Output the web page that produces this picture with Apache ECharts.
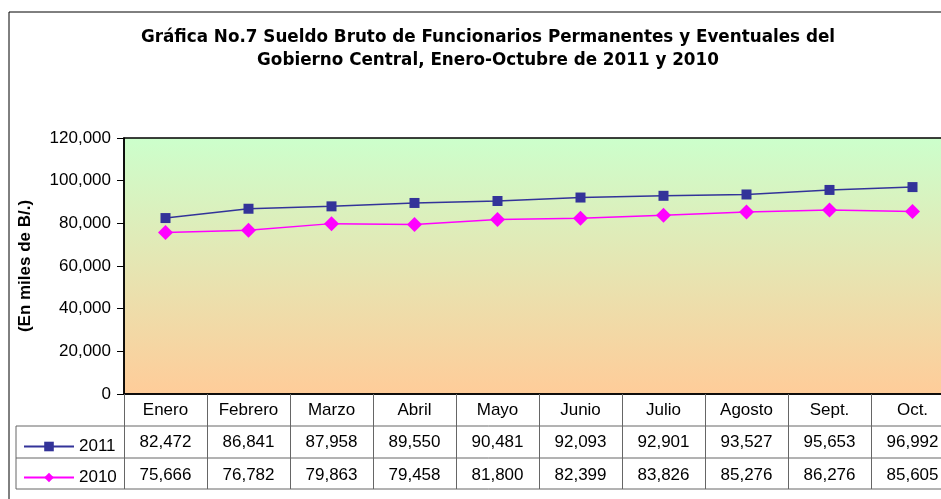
<!DOCTYPE html>
<html>
<head>
<meta charset="utf-8">
<title>Gráfica No.7</title>
<script src="https://cdn.jsdelivr.net/npm/echarts@6/dist/echarts.min.js"></script>
<style>
  html, body { margin: 0; padding: 0; background: #fff; overflow: hidden; }
  #chart { width: 960px; height: 499px; }
</style>
</head>
<body>
<div id="chart"></div>
<script>
// datos
var meses = ["Enero", "Febrero", "Marzo", "Abril", "Mayo", "Junio", "Julio", "Agosto", "Sept.", "Oct."];
var serie2011 = [82472, 86841, 87958, 89550, 90481, 92093, 92901, 93527, 95653, 96992];
var serie2010 = [75666, 76782, 79863, 79458, 81800, 82399, 83826, 85276, 86276, 85605];
var ejeY = [0, 20000, 40000, 60000, 80000, 100000, 120000];

var fuente = "Liberation Sans, Arial, sans-serif";

function fmt(v) {
  return v.toLocaleString("en-US");
}

var chart = echarts.init(document.getElementById("chart"));

chart.setOption({
  animation: false,
  title: {
    text: "Gráfica No.7 Sueldo Bruto de Funcionarios Permanentes y Eventuales del\nGobierno Central, Enero-Octubre de 2011 y 2010",
    left: 483,
    top: 21,
    textAlign: "center",
    textStyle: {
      fontFamily: "DejaVu Sans, sans-serif",
      fontSize: 16.8,
      fontWeight: "bold",
      color: "#000",
      lineHeight: 23
    }
  },
  legend: {
    orient: "vertical",
    left: 18,
    top: 433,
    itemGap: 14,
    itemWidth: 50,
    itemHeight: 12,
    textStyle: { fontFamily: fuente, fontSize: 17, color: "#000" },
    data: ["2011", "2010"]
  },
  grid: {
    left: 124,
    top: 138,
    width: 830,
    height: 256,
    show: true,
    borderColor: "#000",
    borderWidth: 1.5,
    backgroundColor: new echarts.graphic.LinearGradient(0, 0, 0, 1, [
      { offset: 0, color: "#CCFFCC" },
      { offset: 1, color: "#FFCC99" }
    ])
  },
  xAxis: [
    {
      type: "category",
      data: meses,
      boundaryGap: true,
      axisLine: { lineStyle: { color: "#000", width: 1.5 } },
      axisTick: { show: true, interval: 0, length: 95, lineStyle: { color: "#666", width: 1 } },
      axisLabel: { interval: 0, margin: 8, fontFamily: fuente, fontSize: 17, color: "#000" }
    },
    {
      type: "category",
      data: serie2011.map(fmt),
      position: "bottom",
      offset: 32,
      axisLine: { show: false },
      axisTick: { show: false },
      axisLabel: { interval: 0, margin: 8, fontFamily: fuente, fontSize: 17, color: "#000" }
    },
    {
      type: "category",
      data: serie2010.map(fmt),
      position: "bottom",
      offset: 65,
      axisLine: { show: false },
      axisTick: { show: false },
      axisLabel: { interval: 0, margin: 8, fontFamily: fuente, fontSize: 17, color: "#000" }
    }
  ],
  yAxis: {
    type: "value",
    min: ejeY[0],
    max: ejeY[ejeY.length - 1],
    interval: 20000,
    name: "(En miles de B/.)",
    nameLocation: "middle",
    nameRotate: 90,
    nameGap: 90,
    nameTextStyle: { fontFamily: fuente, fontSize: 17, fontWeight: "bold", color: "#000" },
    axisLine: { show: true, lineStyle: { color: "#000", width: 1.5 } },
    axisTick: { show: true, inside: false, length: 7, lineStyle: { color: "#000" } },
    splitLine: { show: false },
    axisLabel: {
      margin: 13,
      fontFamily: fuente,
      fontSize: 17,
      color: "#000",
      formatter: function (v) { return fmt(v); }
    }
  },
  graphic: [
    // marco exterior
    { type: "rect", shape: { x: 9, y: 12, width: 1000, height: 600 }, style: { fill: "none", stroke: "#000", lineWidth: 1 }, z: -1 },
    // tabla de datos
    { type: "rect", shape: { x: 16, y: 426, width: 960, height: 63 }, style: { fill: "none", stroke: "#666", lineWidth: 1 } },
    { type: "line", shape: { x1: 16, y1: 458, x2: 976, y2: 458 }, style: { stroke: "#666", lineWidth: 1 } }
  ],
  series: [
    {
      name: "2011",
      type: "line",
      data: serie2011,
      symbol: "rect",
      symbolSize: 10,
      lineStyle: { color: "#333399", width: 1.5 },
      itemStyle: { color: "#333399" }
    },
    {
      name: "2010",
      type: "line",
      data: serie2010,
      symbol: "diamond",
      symbolSize: 15,
      lineStyle: { color: "#FF00FF", width: 1.5 },
      itemStyle: { color: "#FF00FF" }
    }
  ]
});

window.addEventListener("resize", () => {
  if (chart) chart.resize();
});
</script>
</body>
</html>
